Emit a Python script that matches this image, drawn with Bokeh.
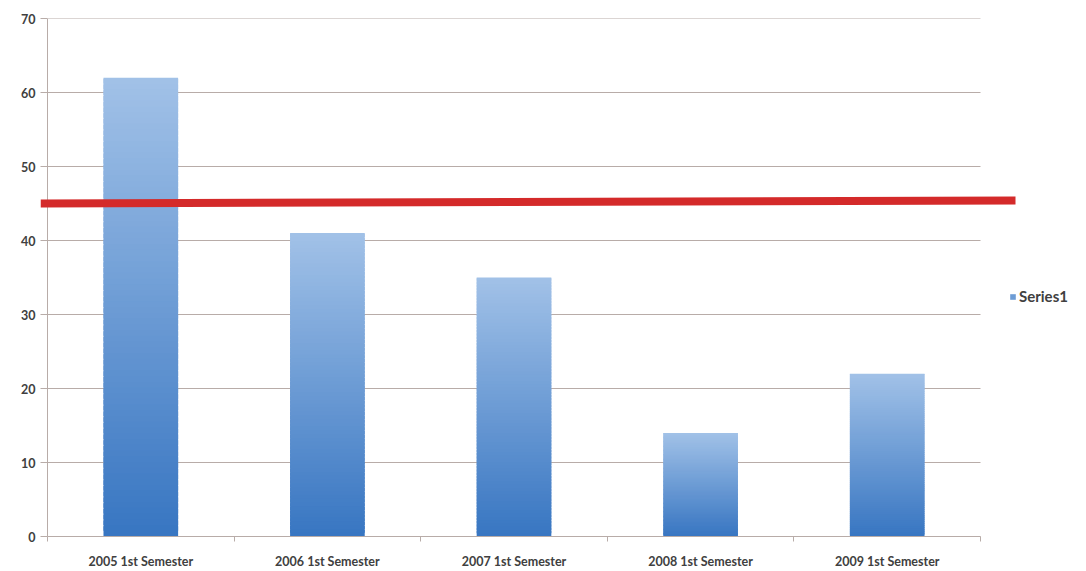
import numpy as np
from bokeh.plotting import figure
from bokeh.models import Range1d, FixedTicker, Legend, LegendItem
from bokeh.embed import file_html
from bokeh.resources import INLINE

# ---- data ----
categories = ["2005 1st Semester", "2006 1st Semester", "2007 1st Semester",
              "2008 1st Semester", "2009 1st Semester"]
values = [62, 41, 35, 14, 22]
y_ticks = [0, 10, 20, 30, 40, 50, 60, 70]
target_y = [45.0, 45.4]      # red target line level (left, right)
series_name = "Series1"

FONT = "Lato"
TXT = "#404040"
GRID = "#b8aca8"

positions = list(range(1, len(categories) + 1))
cat_lo, cat_hi = 0.5, len(categories) + 0.5

# frame spans x=40..1086 px; category area 47..980 px
unit = (980 - 47) / len(categories)
x_start = cat_lo - 7 / unit
x_end = cat_hi + (1086 - 980) / unit
target_x = [x_start, cat_hi + 35 / unit]

p = figure(width=1086, height=571, output_backend="svg", toolbar_location=None,
           x_range=Range1d(x_start, x_end), y_range=Range1d(0, 70),
           min_border_left=40, min_border_right=0, min_border_top=18,
           min_border_bottom=35, outline_line_color=None,
           background_fill_color="white", border_fill_color="white")

# gridlines (only over the category area)
p.segment(x0=[cat_lo] * len(y_ticks), x1=[cat_hi] * len(y_ticks),
          y0=y_ticks, y1=y_ticks, line_color=GRID, line_width=1)
# y axis line at the category start
p.segment(x0=[cat_lo], x1=[cat_lo], y0=[y_ticks[0]], y1=[y_ticks[-1]],
          line_color=GRID, line_width=1)

# gradient bars (stacked thin slices from dark bottom to light top)
c_bot = np.array([0x38, 0x76, 0xc2])
c_top = np.array([0xa2, 0xc2, 0xe8])
n = 80
xs, bots, tops, cols = [], [], [], []
for x, v in zip(positions, values):
    for k in range(n):
        t = (k + 0.5) / n
        c = (c_bot + (c_top - c_bot) * t).astype(int)
        xs.append(x)
        bots.append(v * k / n)
        tops.append(min(v, v * (k + 1.8) / n))
        cols.append("#%02x%02x%02x" % tuple(c))
bars = p.vbar(x=xs, bottom=bots, top=tops, width=0.4, fill_color=cols,
              line_color=None)

# red target line
p.line(x=target_x, y=target_y, line_color="#d42a2a", line_width=8)

# axes
p.yaxis.ticker = FixedTicker(ticks=y_ticks)
p.yaxis.major_tick_out = 0
p.yaxis.major_tick_in = 7
p.yaxis.minor_tick_line_color = None
p.yaxis.axis_line_color = None
p.yaxis.major_tick_line_color = GRID
p.yaxis.major_label_standoff = 5
p.yaxis.major_label_text_font = FONT
p.yaxis.major_label_text_font_size = "12.5px"
p.yaxis.major_label_text_font_style = "bold"
p.yaxis.major_label_text_color = TXT

p.xaxis.bounds = (cat_lo, cat_hi)
p.xaxis.ticker = FixedTicker(ticks=positions,
                             minor_ticks=[x - 0.5 for x in positions] + [cat_hi])
p.xaxis.major_label_overrides = {x: c for x, c in zip(positions, categories)}
p.xaxis.major_tick_line_color = None
p.xaxis.major_tick_out = 0
p.xaxis.major_tick_in = 0
p.xaxis.minor_tick_out = 5
p.xaxis.minor_tick_in = 0
p.xaxis.minor_tick_line_color = GRID
p.xaxis.axis_line_color = GRID
p.xaxis.major_label_standoff = 12
p.xaxis.major_label_text_font = FONT
p.xaxis.major_label_text_font_size = "12.5px"
p.xaxis.major_label_text_font_style = "bold"
p.xaxis.major_label_text_color = TXT

p.grid.visible = False

# legend
legend = Legend(items=[LegendItem(label=series_name, renderers=[bars], index=n // 2)],
                location=(969, 231), orientation="vertical",
                glyph_width=7, glyph_height=7, label_height=10, label_standoff=3,
                padding=0, margin=0, spacing=0,
                border_line_color=None, background_fill_alpha=0,
                label_text_font=FONT, label_text_font_size="15px",
                label_text_font_style="bold", label_text_color=TXT)
p.add_layout(legend, "center")

open("out.html", "w").write(file_html(p, INLINE))
